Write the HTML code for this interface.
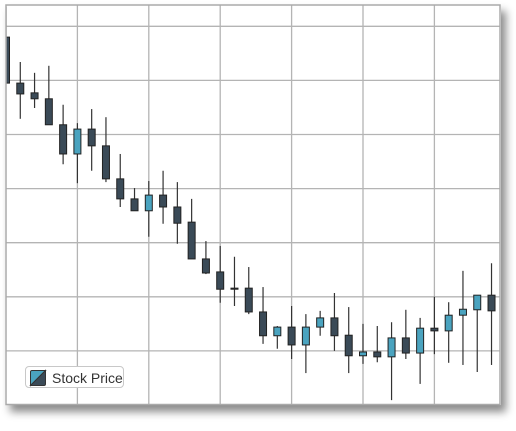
<!DOCTYPE html>
<html><head><meta charset="utf-8"><style>
html,body{margin:0;padding:0;background:#fff;width:516px;height:431px;overflow:hidden;font-family:"Liberation Sans",sans-serif}
#frame{position:absolute;left:5px;top:4px;width:496px;height:401px;background:#fff;box-shadow:5px 7px 8px rgba(0,0,0,0.45)}
svg{position:absolute;left:0;top:0}
#legend{position:absolute;left:25px;top:366px;width:99px;height:22px;border:1px solid #c8c8c8;border-radius:4px;background:#fff;box-sizing:border-box}
#legend span{position:absolute;left:26px;top:3px;font-size:14px;color:#333}
</style></head><body>
<div id="frame"></div>
<svg id="chart" width="516" height="431"></svg>
<div id="legend">
<svg width="18" height="18" style="left:3px;top:2px">
<path d="M1.5,16.5 L1.5,3 Q1.5,1.5 3,1.5 L16.5,1.5 Z" fill="#4aa3bf" stroke="#333" stroke-width="1"/>
<path d="M1.5,16.5 L16.5,1.5 L16.5,15 Q16.5,16.5 15,16.5 Z" fill="#3a4a57" stroke="#333" stroke-width="1"/>
</svg>
<span>Stock Price</span>
</div>
<script>
const opens  = [68.0,59.5,57.7,56.6,51.8,46.4,51.0,47.9,41.8,38.1,35.9,38.8,36.6,33.8,27.0,24.6,21.6,21.6,17.2,12.8,14.4,11.1,14.4,16.1,12.9,9.1,9.8,8.9,12.4,9.6,14.2,13.7,16.6,17.6,20.3];
const highs  = [73.6,63.4,61.4,62.7,55.5,52.1,54.7,53.2,46.4,40.1,41.4,43.3,41.2,38.1,30.3,29.4,27.4,25.5,21.8,14.6,18.3,16.8,17.4,20.7,18.1,15.0,14.6,15.3,17.6,16.1,20.0,19.0,24.8,20.3,26.2];
const lows   = [59.5,52.9,54.9,51.8,44.5,41.0,43.3,41.2,36.6,35.9,31.1,33.5,29.8,27.0,24.2,18.9,18.3,16.8,11.3,10.4,8.5,5.9,12.8,10.0,5.9,7.6,7.9,0.9,8.5,3.9,9.4,7.8,7.4,6.1,7.4];
const closes = [59.5,57.5,56.6,51.8,46.4,51.0,47.9,41.8,38.1,35.9,38.8,36.6,33.6,27.0,24.4,21.4,21.4,17.2,12.8,14.4,11.1,14.4,16.1,12.8,9.1,9.8,8.9,12.4,9.6,14.2,13.7,16.6,17.7,20.3,17.4];
const gridValues = [10,20,30,40,50,60,70];

const NS="http://www.w3.org/2000/svg";
const svg=document.getElementById('chart');
const L=6,R=500,T=5,B=404.5;
const xs=i=>L+i*14.28;
const ys=v=>405-v*5.41;
function mk(tag,attrs){const e=document.createElementNS(NS,tag);for(const k in attrs)e.setAttribute(k,attrs[k]);return e;}
const defs=mk('defs',{});const cp=mk('clipPath',{id:'clip'});cp.appendChild(mk('rect',{x:L,y:T,width:R-L,height:B-T}));defs.appendChild(cp);svg.appendChild(defs);
const grid=mk('g',{});


svg.appendChild(grid);
gridValues.forEach(v=>{const l=mk('line',{x1:L,x2:R,y1:ys(v),y2:ys(v),stroke:'#b4b4b4','stroke-width':1.3});


grid.appendChild(l);});
for(let i=5;i<35;i+=5){const l=mk('line',{x1:xs(i),x2:xs(i),y1:T,y2:B,stroke:'#b4b4b4','stroke-width':1.3});


grid.appendChild(l);}
const g=mk('g',{'clip-path':'url(#clip)'});


svg.appendChild(g);
opens.forEach((o,i)=>{
 const c=closes[i],x=xs(i),up=c>o;
 const cg=mk('g',{});
 
 
 cg.appendChild(mk('line',{x1:x,x2:x,y1:ys(highs[i]),y2:ys(lows[i]),stroke:'#333','stroke-width':1.2}));
 const top=ys(Math.max(o,c)),bot=ys(Math.min(o,c));
 cg.appendChild(mk('rect',{x:x-3.5,y:top,width:7,height:Math.max(bot-top,1),fill:up?'#4aa3bf':'#3a4a57',stroke:'#222','stroke-width':1}));
 g.appendChild(cg);
});
const border=mk('rect',{x:L,y:T,width:R-L,height:B-T,fill:'none',stroke:'#aaa','stroke-width':1.5});


svg.appendChild(border);
</script>
</body></html>
